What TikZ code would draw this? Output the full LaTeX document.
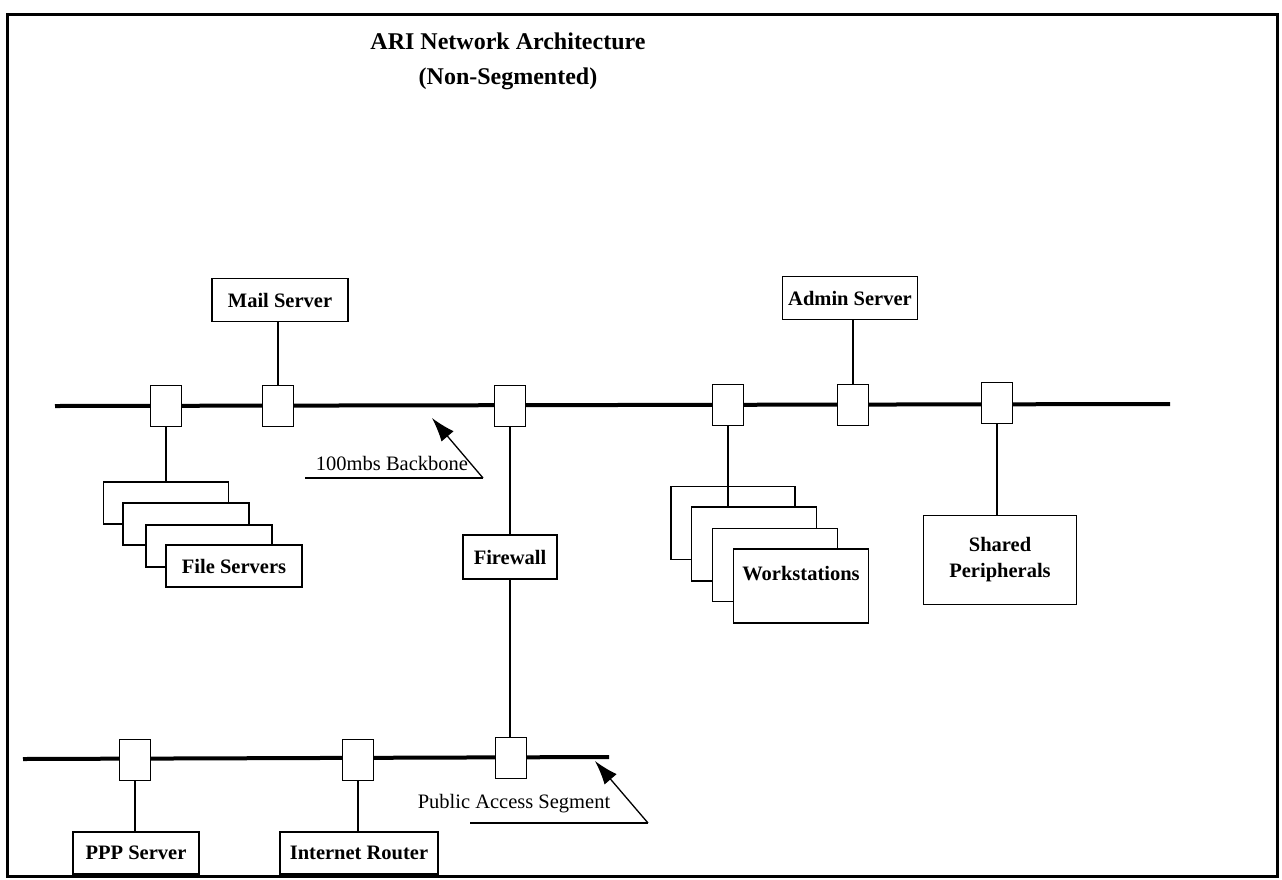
\documentclass[tikz,border=0pt]{standalone}
\usepackage{fontspec}
\setmainfont{Liberation Serif}
\usetikzlibrary{arrows.meta}
\pgfdeclarelayer{edgelayer}
\pgfdeclarelayer{nodelayer}
\pgfsetlayers{edgelayer,nodelayer,main}
\tikzstyle{heading}=[font=\fontsize{24}{35}\selectfont\bfseries, align=center, inner sep=0]
\tikzstyle{tap}=[rectangle, fill=white, draw=black, line width=1.500, minimum width=31, minimum height=41, inner sep=0]
\tikzstyle{device}=[rectangle, fill=white, draw=black, line width=1.500, inner sep=0, font=\fontsize{20.5}{26}\selectfont\bfseries, align=center]
\tikzstyle{note}=[font=\fontsize{20.5}{24}\selectfont, inner sep=0]
\tikzstyle{segment}=[-, draw=black, line width=4.000]
\tikzstyle{link}=[-, draw=black, line width=1.200]
\tikzstyle{pointer}=[-{Latex[length=24pt,width=16pt]}, draw=black, line width=1.300]

\begin{document}
\begin{tikzpicture}[x=1pt, y=-1pt]
            \useasboundingbox (0, 0) rectangle (1282, 879);
            \begin{pgfonlayer}{nodelayer}
                \node [style=heading] (title) at (508, 61) {ARI Network Architecture\\(Non-Segmented)};

                \node [style=tap] (tapA) at (166, 406) {};
                \node [style=tap] (tapB) at (278, 406) {};
                \node [style=tap] (tapC) at (510, 406) {};
                \node [style=tap] (tapD) at (728, 405) {};
                \node [style=tap] (tapE) at (853, 405) {};
                \node [style=tap] (tapF) at (997, 403) {};

                \node [style=device, minimum width=136, minimum height=43] (mail) at (280, 300) {Mail Server};
                \node [style=device, minimum width=135, minimum height=43] (admin) at (850, 298) {Admin Server};

                \node [style=device, minimum width=125, minimum height=42] (fs1) at (166, 503) {};
                \node [style=device, minimum width=126, minimum height=42] (fs2) at (186, 524) {};
                \node [style=device, minimum width=126, minimum height=42] (fs3) at (209, 546) {};
                \node [style=device, minimum width=136, minimum height=42] (fs4) at (234, 566) {File Servers};

                \node [style=device, minimum width=124, minimum height=73] (ws1) at (733, 523) {};
                \node [style=device, minimum width=125, minimum height=74] (ws2) at (754, 544) {};
                \node [style=device, minimum width=125, minimum height=73] (ws3) at (775, 565) {};
                \node [style=device, minimum width=135, minimum height=74] (ws4) at (801, 586) {Workstations\\ \mbox{}};

                \node [style=device, minimum width=153, minimum height=89] (shared) at (1000, 560) {Shared\\Peripherals};
                \node [style=device, minimum width=94, minimum height=44] (firewall) at (510, 557) {Firewall};

                \node [style=tap] (tapG) at (135, 760) {};
                \node [style=tap] (tapH) at (358, 760) {};
                \node [style=tap] (tapI) at (511, 758) {};

                \node [style=device, minimum width=126, minimum height=42] (ppp) at (136, 853) {PPP Server};
                \node [style=device, minimum width=158, minimum height=42] (router) at (359, 853) {Internet Router};

                \node [style=note] (bbtext) at (392, 463) {100mbs Backbone};
                \node [style=note] (pastext) at (514, 804) {Public Access Segment};
            \end{pgfonlayer}
            \begin{pgfonlayer}{edgelayer}
                \draw [line width=3.000] (7, 14) rectangle (1277, 876);

                \coordinate (bbL) at (55, 406);
                \coordinate (bbR) at (1170, 404);
                \coordinate (paL) at (23, 759);
                \coordinate (paR) at (609, 757);
                \draw [style=segment] (bbL) -- (bbR);
                \draw [style=segment] (paL) -- (paR);

                \draw [style=link] (tapA) -- (tapA |- fs1.north);
                \draw [style=link] (tapB) -- (tapB |- mail.south);
                \draw [style=link] (tapC) -- (firewall);
                \draw [style=link] (firewall) -- (firewall |- tapI.north);
                \draw [style=link] (tapE) -- (tapE |- admin.south);
                \draw [style=link] (tapF) -- (tapF |- shared.north);
                \draw [style=link] (tapG) -- (tapG |- ppp.north);
                \draw [style=link] (tapH) -- (tapH |- router.north);

                % labels with pointers
                \coordinate (bbfoot) at (305, 478);
                \coordinate (bbknee) at (483, 478);
                \coordinate (bbtip) at (432, 418);
                \draw [style=link] (bbfoot) -- (bbknee);
                \draw [style=pointer] (bbknee) -- (bbtip);
                \coordinate (pafoot) at (470, 823);
                \coordinate (paknee) at (648, 823);
                \coordinate (patip) at (595, 761);
                \draw [style=link] (pafoot) -- (paknee);
                \draw [style=pointer] (paknee) -- (patip);
            \end{pgfonlayer}
            \draw [style=link] (tapD.south) -- (tapD |- ws2.north);
\end{tikzpicture}
\end{document}
